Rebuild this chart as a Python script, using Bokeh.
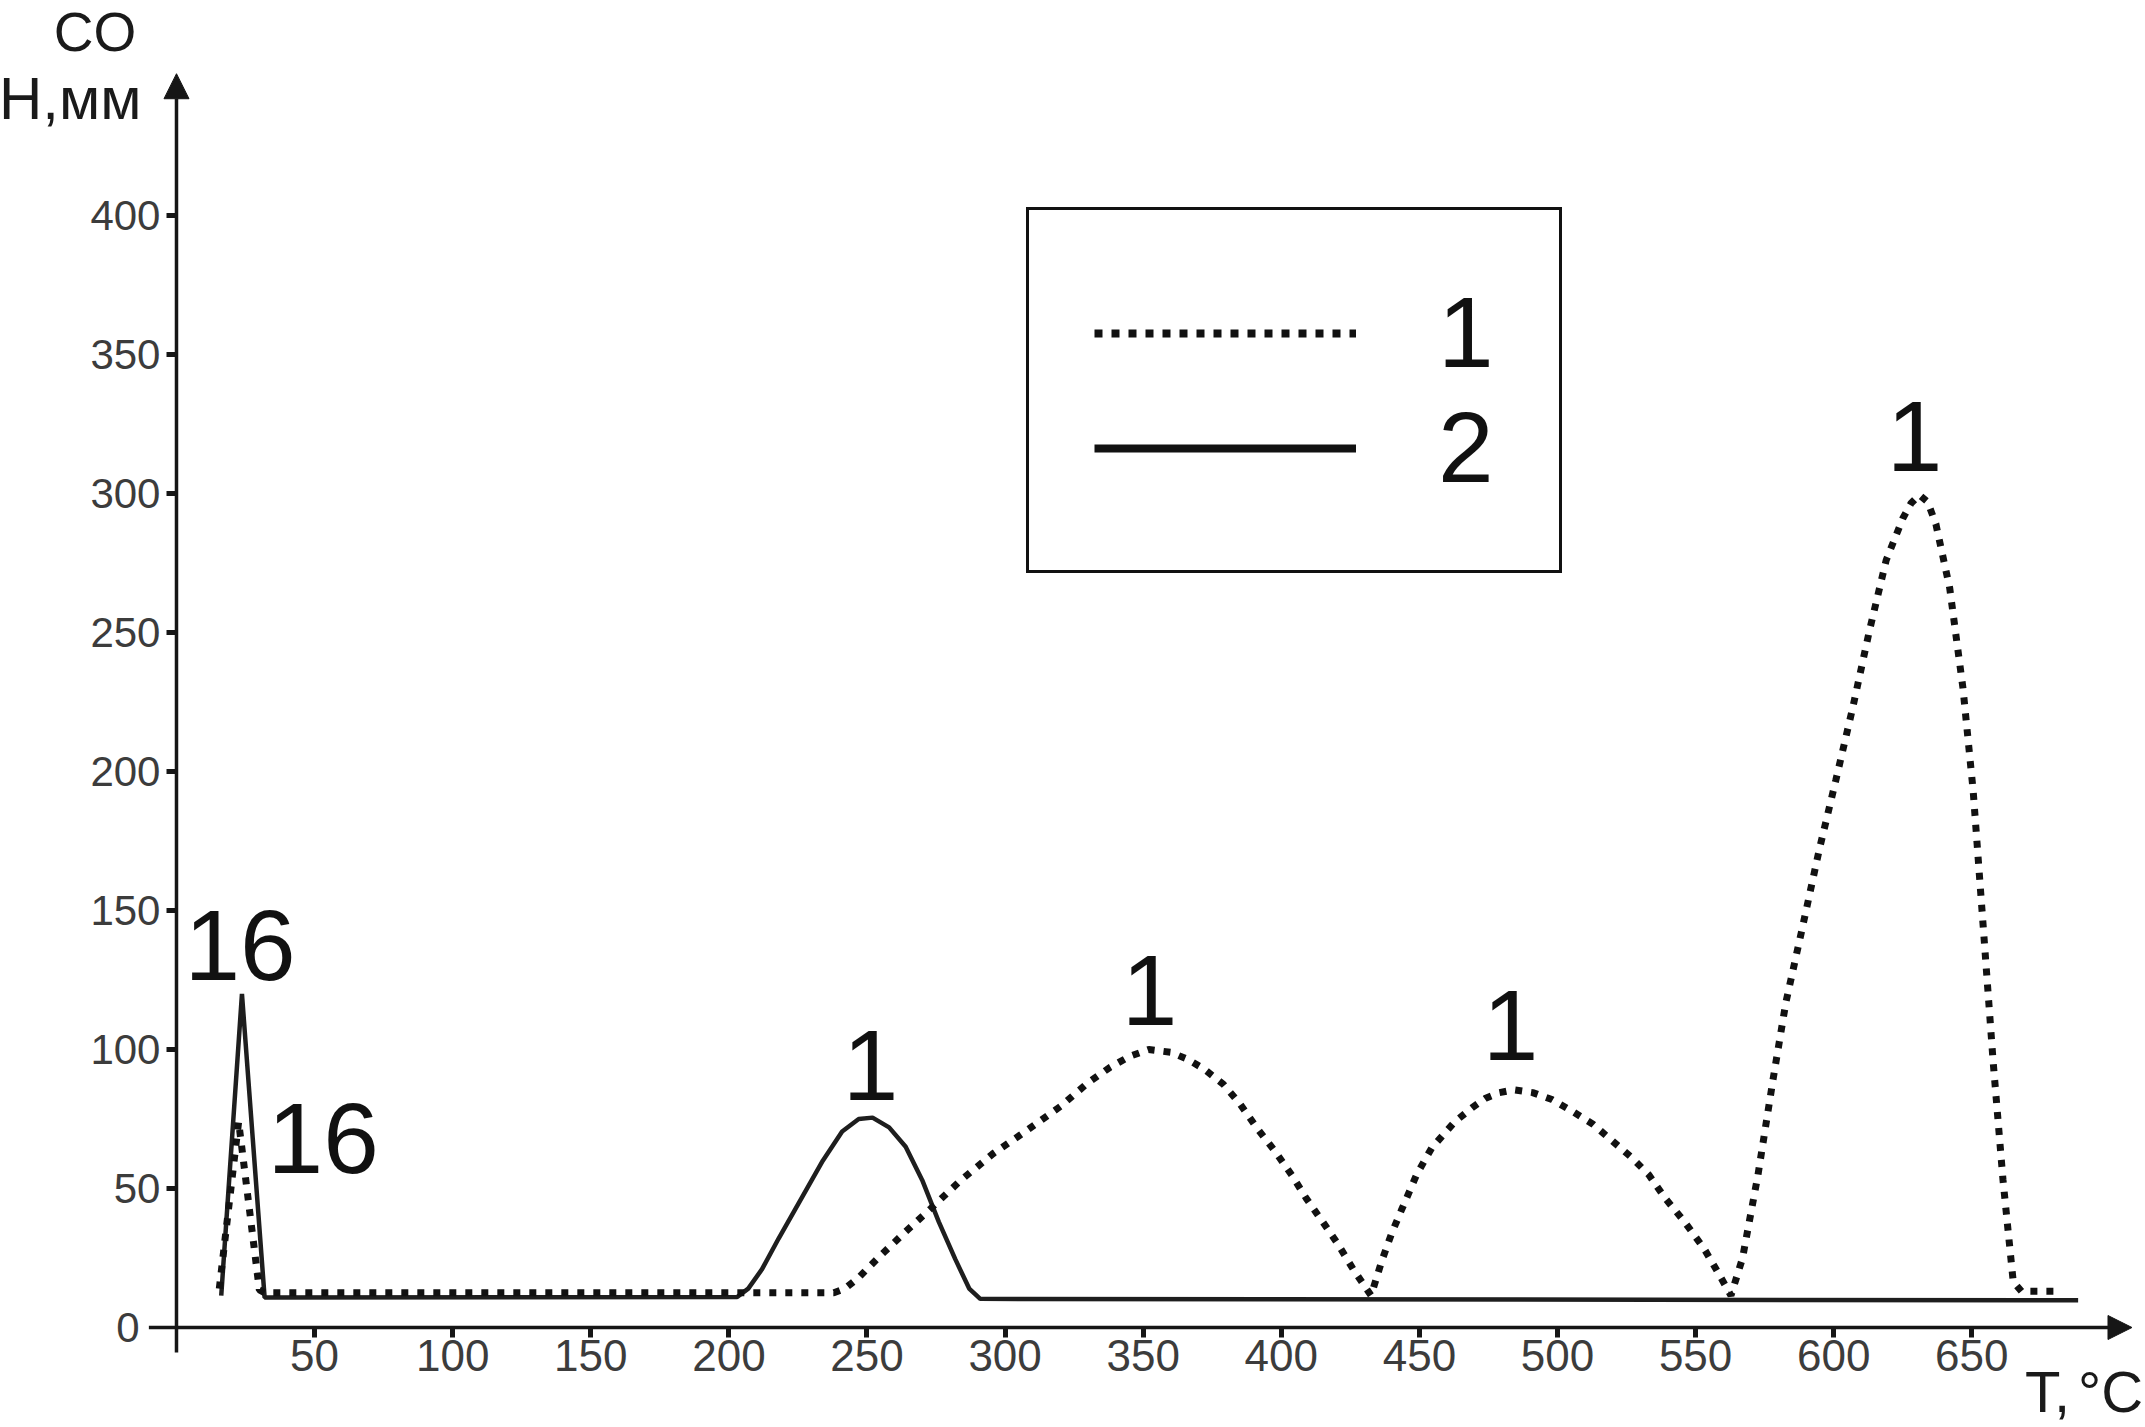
from bokeh.plotting import figure
from bokeh.models import (Range1d, LinearAxis, FixedTicker, Arrow, NormalHead,
                          Label, Legend, LegendItem)
from bokeh.embed import file_html
from bokeh.resources import INLINE

# ---------------- data ----------------
# series 1 (dotted)
t_series1 = [15.5, 22.5, 30, 32, 238, 242, 247, 255, 264, 273, 284, 295.6, 308, 320,
             330, 338, 345, 352, 360, 366, 372, 379, 385, 391, 398, 404, 409, 415,
             420.5, 426, 432.5, 436.4, 440, 443.4, 449, 454.4, 462.8, 469, 474, 479,
             484, 491, 498, 505, 513, 520, 527, 533, 539, 546, 553, 558, 562.8, 567,
             572.6, 578, 582.7, 588.7, 594.8, 600.8, 606.9, 612.9, 619, 625, 628, 631,
             634, 637, 642, 646.8, 650.5, 654, 657.7, 661.3, 665, 668, 682.5]
h_series1 = [14, 74, 13.5, 12.5, 12.5, 14, 18, 26, 34.5, 42.7, 53, 62.5, 71, 79.5,
             88, 93.6, 97.5, 100, 99, 96.5, 93, 87.5, 80.5, 72, 63, 54.5, 46.5, 38,
             30, 21, 11.5, 24, 34, 42, 55, 64.5, 74, 79, 82.5, 84.5,
             85.5, 84.5, 82, 78, 73, 67, 61, 55, 46.5, 38, 28.5, 20, 11.5, 25,
             55, 89, 117, 144, 172, 197, 223, 250.5, 276, 291, 296.5, 299.5,
             297, 289, 266, 230, 193, 146, 96, 53, 16.5, 13, 13]

# series 2 (solid)
t_series2 = [16.2, 23.7, 31.9, 203, 207, 212, 218, 226, 234, 241, 247, 252, 258,
             264, 270, 276, 282, 287, 291, 688.5]
h_series2 = [11.5, 120, 10.8, 11, 14, 21, 32, 46, 60, 70.5, 75, 75.5, 72,
             65, 53, 38, 24.5, 14, 10.3, 9.8]

x_ticks = [50, 100, 150, 200, 250, 300, 350, 400, 450, 500, 550, 600, 650]
y_ticks = [50, 100, 150, 200, 250, 300, 350, 400]
y_zero_tick = [0]

peak_label_text = ["16", "16", "1", "1", "1", "1"]
peak_label_t = [23.0, 53.1, 251.3, 352.3, 483.0, 629.3]
peak_label_h = [137.3, 67.9, 94.1, 121.1, 108.8, 320.4]

legend_labels = ["1", "2"]

x_title = ["T,", "°C"]
y_title = ["CO", "Н,мм"]

# ---------------- figure ----------------
W, H = 2145, 1427
INK = "#161616"
p = figure(width=W, height=H, output_backend="svg", toolbar_location=None, tools="",
           x_range=Range1d(-63.72, 712.89), y_range=Range1d(-35.97, 477.34),
           x_axis_location=None, y_axis_location=None, min_border=0,
           outline_line_color=None, background_fill_color="white",
           border_fill_color="white")
for g in p.grid:
    g.visible = False

tick_font = "Liberation Sans"

xaxis = LinearAxis(fixed_location=0, ticker=FixedTicker(ticks=x_ticks, minor_ticks=[]),
                   axis_line_color=None, major_tick_in=0, major_tick_out=10,
                   major_tick_line_width=5, major_tick_line_color=INK,
                   minor_tick_line_color=None, major_label_text_font=tick_font,
                   major_label_text_font_size="44px", major_label_text_color="#3c3c3c",
                   major_label_standoff=2)
p.add_layout(xaxis, "below")

yaxis = LinearAxis(fixed_location=0, ticker=FixedTicker(ticks=y_ticks, minor_ticks=[]),
                   axis_line_color=None, major_tick_in=0, major_tick_out=10,
                   major_tick_line_width=5, major_tick_line_color=INK,
                   minor_tick_line_color=None, major_label_text_font=tick_font,
                   major_label_text_font_size="42px", major_label_text_color="#3c3c3c",
                   major_label_standoff=6)
p.add_layout(yaxis, "left")

yaxis0 = LinearAxis(fixed_location=0, ticker=FixedTicker(ticks=y_zero_tick, minor_ticks=[]),
                    axis_line_color=None, major_tick_line_color=None,
                    minor_tick_line_color=None, major_label_text_font=tick_font,
                    major_label_text_font_size="42px", major_label_text_color="#3c3c3c",
                    major_label_standoff=31)
p.add_layout(yaxis0, "left")

# axis lines with arrow heads
p.add_layout(Arrow(end=NormalHead(size=24, fill_color=INK, line_color=INK),
                   x_start=-10, y_start=0, x_end=708, y_end=0,
                   line_width=3.5, line_color=INK))
p.add_layout(Arrow(end=NormalHead(size=25, fill_color=INK, line_color=INK),
                   x_start=0, y_start=-9, x_end=0, y_end=451,
                   line_width=3.5, line_color=INK))

# curves
r2 = p.line(t_series2, h_series2, line_width=4.5, line_color="#1e1e1e")
r1 = p.line(t_series1, h_series1, line_width=7, line_dash="7 9", line_color="#111111")

# legend (styled proxies holding a single NaN point, so nothing shows in the plot)
nan = float("nan")
lg1 = p.line([nan], [nan], line_width=8, line_dash="8 9", line_color="#111111")
lg2 = p.line([nan], [nan], line_width=8, line_color="#111111")
legend = Legend(items=[LegendItem(label=legend_labels[0], renderers=[lg1]),
                       LegendItem(label=legend_labels[1], renderers=[lg2])],
                location=(1026, 854), orientation="vertical", margin=0,
                padding=65, spacing=0, glyph_width=262, glyph_height=96,
                label_height=96, label_standoff=82,
                label_text_font="Liberation Sans", label_text_font_size="100px",
                label_text_line_height=0.8,
                label_text_color="#111111",
                border_line_color="#111111", border_line_width=3, border_line_alpha=1.0,
                background_fill_color="white", background_fill_alpha=1.0)
p.add_layout(legend)

# peak labels
for txt, tx, hy in zip(peak_label_text, peak_label_t, peak_label_h):
    p.add_layout(Label(x=tx, y=hy, text=txt, text_align="center",
                       text_baseline="alphabetic", text_font="Liberation Sans",
                       text_font_size="100px", text_color="#111111"))

# axis titles
p.add_layout(Label(x=-29.5, y=466.0, text=y_title[0], text_align="center",
                   text_baseline="alphabetic", text_font="Liberation Sans",
                   text_font_size="55px", text_color="#1a1a1a"))
p.add_layout(Label(x=-12.7, y=442.2, text=y_title[1], text_align="right",
                   text_baseline="alphabetic", text_font="Liberation Sans",
                   text_font_size="60px", text_color="#1a1a1a"))
p.add_layout(Label(x=669.3, y=-22.9, text=x_title[0], text_align="left",
                   text_baseline="alphabetic", text_font="Liberation Sans",
                   text_font_size="58px", text_color="#1a1a1a"))
p.add_layout(Label(x=712.0, y=-22.9, text=x_title[1], text_align="right",
                   text_baseline="alphabetic", text_font="Liberation Sans",
                   text_font_size="58px", text_color="#1a1a1a"))

open("out.html", "w").write(file_html(p, INLINE))
